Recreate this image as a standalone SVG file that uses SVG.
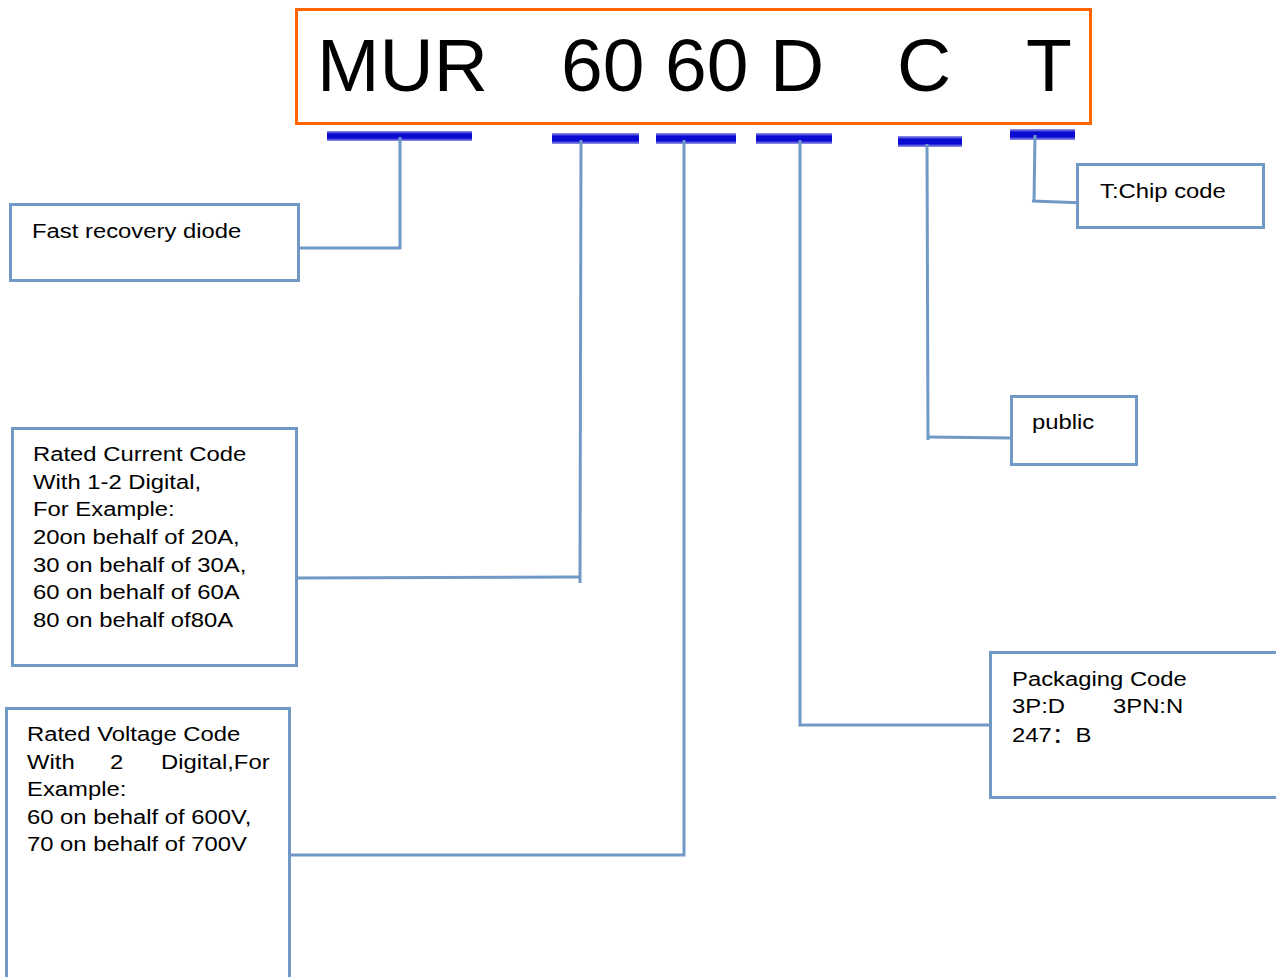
<svg xmlns="http://www.w3.org/2000/svg" width="1276" height="977" viewBox="0 0 1276 977">
<defs>
<linearGradient id="bar" x1="0" y1="0" x2="0" y2="1">
<stop offset="0" stop-color="#9a9ae6"/>
<stop offset="0.3" stop-color="#0a0ad0"/>
<stop offset="0.7" stop-color="#0a0ad0"/>
<stop offset="1" stop-color="#9a9ae6"/>
</linearGradient>
</defs>
<style>
.box{fill:#ffffff;stroke:#7199c6;stroke-width:3}
.con{fill:none;stroke:#7199c6;stroke-width:3}
.t{font-family:"Liberation Sans",Arial,sans-serif;font-size:21px;fill:#000}
.big{font-family:"Liberation Sans",Arial,sans-serif;font-size:75px;fill:#000}
.bar{fill:url(#bar)}
</style>
<rect width="1276" height="977" fill="#ffffff"/>
<g id="code">
<rect x="296.5" y="9.5" width="794" height="114" fill="#ffffff" stroke="#ff6600" stroke-width="3"/>
<text class="big" x="317" y="91">MUR</text>
<text class="big" x="561" y="91">60</text>
<text class="big" x="665" y="91">60</text>
<text class="big" x="770" y="91">D</text>
<text class="big" x="897" y="91">C</text>
<text class="big" x="1026" y="91">T</text>
</g>
<g id="bars">
<rect class="bar" x="327" y="131" width="145" height="10"/>
<rect class="bar" x="552" y="133" width="87" height="11"/>
<rect class="bar" x="656" y="133" width="80" height="11"/>
<rect class="bar" x="756" y="133" width="76" height="11"/>
<rect class="bar" x="898" y="136" width="64" height="11"/>
<rect class="bar" x="1010" y="129" width="65" height="11"/>
</g>
<g id="connectors">
<polyline class="con" points="400,137 400,248 299,248"/>
<polyline class="con" points="581,140 580,583"/>
<line class="con" x1="297" y1="578" x2="581" y2="577"/>
<polyline class="con" points="684,140 684,855 290,855"/>
<polyline class="con" points="800,140 800,725 990,725"/>
<polyline class="con" points="927,144 928,440"/>
<line class="con" x1="928" y1="437" x2="1011" y2="438"/>
<polyline class="con" points="1035,135 1034,202"/>
<line class="con" x1="1032" y1="201" x2="1085" y2="203"/>
</g>
<g id="node-fast">
<rect class="box" x="10.5" y="204.5" width="288" height="76"/>
<text class="t" transform="translate(32,238) scale(1.135,1)">Fast recovery diode</text>
</g>
<g id="node-current">
<rect class="box" x="12.5" y="428.5" width="284" height="237"/>
<text class="t" transform="translate(33,461) scale(1.135,1)">Rated Current Code</text>
<text class="t" transform="translate(33,489) scale(1.135,1)">With 1-2 Digital,</text>
<text class="t" transform="translate(33,516) scale(1.135,1)">For Example:</text>
<text class="t" transform="translate(33,544) scale(1.135,1)">20on behalf of 20A,</text>
<text class="t" transform="translate(33,572) scale(1.135,1)">30 on behalf of 30A,</text>
<text class="t" transform="translate(33,599) scale(1.135,1)">60 on behalf of 60A</text>
<text class="t" transform="translate(33,627) scale(1.135,1)">80 on behalf of80A</text>
</g>
<g id="node-voltage">
<rect class="box" x="6.5" y="708.5" width="283" height="280"/>
<text class="t" transform="translate(27,741) scale(1.135,1)">Rated Voltage Code</text>
<text class="t" transform="translate(27,769) scale(1.135,1)">With</text>
<text class="t" transform="translate(110,769) scale(1.135,1)">2</text>
<text class="t" transform="translate(161,769) scale(1.135,1)">Digital,For</text>
<text class="t" transform="translate(27,796) scale(1.135,1)">Example:</text>
<text class="t" transform="translate(27,824) scale(1.135,1)">60 on behalf of 600V,</text>
<text class="t" transform="translate(27,851) scale(1.135,1)">70 on behalf of 700V</text>
</g>
<g id="node-packaging">
<rect class="box" x="990.5" y="652.5" width="300" height="145"/>
<text class="t" transform="translate(1012,686) scale(1.135,1)">Packaging Code</text>
<text class="t" transform="translate(1012,713) scale(1.135,1)">3P:D</text>
<text class="t" transform="translate(1113,713) scale(1.135,1)">3PN:N</text>
<text class="t" transform="translate(1012,742) scale(1.135,1)">247<tspan font-family="'Noto Sans CJK SC',sans-serif">：</tspan>B</text>
</g>
<g id="node-public">
<rect class="box" x="1011.5" y="396.5" width="125" height="68"/>
<text class="t" transform="translate(1032,429) scale(1.135,1)">public</text>
</g>
<g id="node-chip">
<rect class="box" x="1077.5" y="164.5" width="186" height="63"/>
<text class="t" transform="translate(1100,198) scale(1.135,1)">T:Chip code</text>
</g>
</svg>
